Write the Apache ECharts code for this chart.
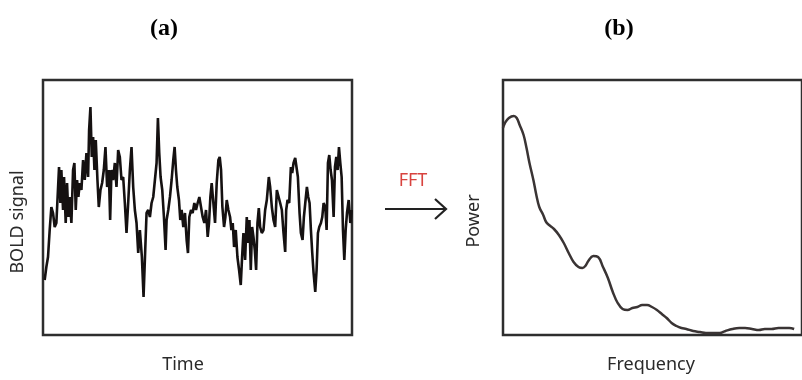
<!DOCTYPE html>
<html>
<head>
<meta charset="utf-8">
<script src="https://cdn.jsdelivr.net/npm/echarts@6/dist/echarts.min.js"></script>
<style>html,body{margin:0;padding:0;background:#fff}#c{width:802px;height:380px}</style>
</head>
<body>
<div id="c"></div>
<script>
// Panel (a): BOLD signal over time (arbitrary units)
var time = [5,10,15,20,25,30,35,40,45,48,52,55,60,63,68,72,76,80,85,90,94,98,102,106,110,115,120,125,130,135,138,142,146,150,154,158,163,167,172,177,182,187,192,197,201,205,210,215,220,225,230,235,240,245,250,255,260,265,270,275,280,285,290,296,301,306,310,315,320,325,330,335,340,344,348,352,357,362,367,370,375,380,385,390,394,398,402,407,411,415,420,425,430,434,438,443,448,453,458,463,468,473,478,483,488,493,497,501,505,510,515,520,525,529,533,537,542,546,550,555,560,564,568,572,577,582,587,592,596,600,605,610,614,618,622,626,630,634,638,642,646,650,655,660,665,670,676,680,685,690,695,700,705,710,715,720,725,728,732,737,742,746,750,755,759,763,768,772,777,781,786,790,794,798,802,806,810,815,819,823,827,832,836,840,845,849,853,857,861,865,870,874,878,882,886,890,894,898,902,906,910,915,920,924];
var bold = [55,68,78,105,128,122,108,112,110,168,132,165,125,158,112,152,118,138,112,165,172,125,155,138,152,145,175,155,182,158,205,228,178,198,165,195,155,128,145,152,165,188,148,165,115,165,155,172,148,185,178,155,158,132,102,132,165,188,148,125,112,82,105,78,38,85,122,125,118,132,138,155,172,217,182,158,145,118,85,115,125,138,155,175,188,165,148,135,115,125,108,122,95,82,118,125,122,132,125,132,138,140,118,112,125,98,112,138,152,132,112,152,175,178,165,128,108,118,135,125,118,105,112,88,105,78,65,50,78,102,75,118,92,115,65,108,98,85,65,112,127,108,102,105,125,135,158,148,128,115,108,145,145,132,125,102,83,125,135,132,168,162,172,177,175,158,122,102,95,118,135,148,138,132,105,82,62,43,65,102,108,112,118,132,128,105,172,180,165,155,118,168,178,165,188,172,158,105,75,105,122,135,112,125];
// Panel (b): power spectrum
var freq = [0,2,6,11,14,17,21,24,27,31,34,37,41,44,47,52,57,62,67,72,77,81,84,87,92,97,102,107,112,117,122,127,132,137,142,147,152,157,162,167,172,177,182,187,194,201,207,214,221,227,234,241,247,254,261,267,274,281,287,292,297];
var power = [207,212,217,219,217,210,200,187,172,155,140,128,120,113,110,106,100,92,82,73,68,67,69,74,79,78,68,57,43,32,26,25,27,28,30,30,28,25,21,17,12,9,7,6,4,3,2,2,2,4,6,7,7,6,5,6,6,7,7,7,6];
var panelTitles = ['(a)', '(b)'];
var axisNames = {aX:'Time', aY:'BOLD signal', bX:'Frequency', bY:'Power', arrow:'FFT'};

function zip(a,b){var r=[];for(var i=0;i<a.length;i++)r.push([a[i],b[i]]);return r;}

var chart = echarts.init(document.getElementById('c'), null, {renderer:'canvas'});
function hiddenAxis(extra){
  return Object.assign({
    type:'value', axisLine:{show:false}, axisTick:{show:false},
    axisLabel:{show:false}, splitLine:{show:false}
  }, extra);
}
var labelFont = '18px "Noto Sans", "Open Sans", sans-serif';
var titleFont = 'bold 24px "Liberation Serif", "Times New Roman", serif';
function txt(s, x, y, font, fill, rot){
  return {type:'text', x:x, y:y, rotation:rot||0,
    style:{text:s, x:0, y:0, align:'center', verticalAlign:'middle', font:font, fill:fill}};
}
chart.setOption({
  backgroundColor:'#fff',
  animation:false,
  grid:[
    {left:43, top:80, width:309, height:255, show:true, borderColor:'#2e2e2e', borderWidth:2.5},
    {left:503, top:80, width:305, height:255, show:true, borderColor:'#2e2e2e', borderWidth:2.5}
  ],
  xAxis:[
    hiddenAxis({gridIndex:0, min:0, max:925}),
    hiddenAxis({gridIndex:1, min:0, max:305})
  ],
  yAxis:[
    hiddenAxis({gridIndex:0, min:0, max:255}),
    hiddenAxis({gridIndex:1, min:0, max:255})
  ],
  series:[
    {type:'line', xAxisIndex:0, yAxisIndex:0, data:zip(time,bold), showSymbol:false,
     lineStyle:{color:'#151111', width:2.6}},
    {type:'line', xAxisIndex:1, yAxisIndex:1, data:zip(freq,power), showSymbol:false, smooth:0.4,
     lineStyle:{color:'#3a3434', width:2.5}}
  ],
  graphic:[
    txt(panelTitles[0], 164, 29, titleFont, '#000'),
    txt(panelTitles[1], 619, 29, titleFont, '#000'),
    txt(axisNames.aX, 183, 365, labelFont, '#2a2a2a'),
    txt(axisNames.bX, 651, 365, labelFont, '#2a2a2a'),
    txt(axisNames.aY, 18, 222, labelFont, '#2a2a2a', Math.PI/2),
    txt(axisNames.bY, 474, 221, labelFont, '#2a2a2a', Math.PI/2),
    txt(axisNames.arrow, 413, 181, '18px "Noto Sans", "Open Sans", sans-serif', '#d8433f'),
    {type:'polyline', shape:{points:[[385,209],[446,209]]}, style:{stroke:'#222', lineWidth:2.2, fill:null}},
    {type:'polyline', shape:{points:[[435,199],[446,209],[435,219]]}, style:{stroke:'#222', lineWidth:2.2, fill:null}}
  ]
});
</script>
</body>
</html>
